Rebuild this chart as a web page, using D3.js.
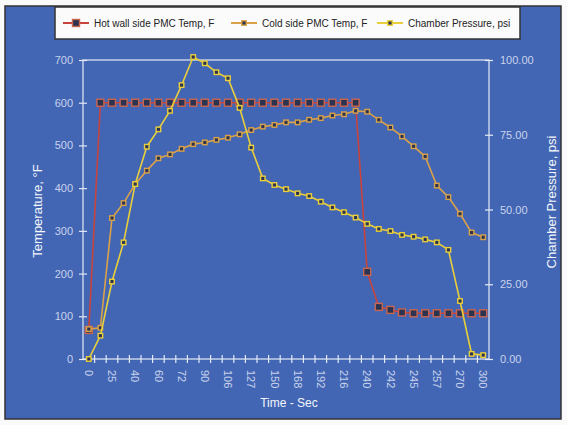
<!DOCTYPE html>
<meta charset="utf-8">
<style>
body {
    margin: 0;
    background: #fafafa;
    font-family: "Liberation Sans", Arial, sans-serif;
}
.tick text {
    fill: #c9d3ec;
    font-size: 11px;
}
.grid-line {
    stroke: #e4eaf6;
    stroke-width: 1.2;
}
.title {
    fill: #f4f6fb;
    font-size: 13px;
}
.legend text {
    font-size: 10px;
    fill: #222;
}
</style>
<body>
<svg style="width:567px; height:425px;"></svg>
<script src="https://d3js.org/d3.v7.min.js"></script>
<script>

// x tick labels (every other sample is labelled)
var timeLabels = ["0", "25", "40", "60", "72", "90", "106", "127", "150", "168",
                  "192", "216", "240", "242", "245", "257", "270", "300"];

var hotWall = [68, 600, 600, 600, 600, 600, 600, 600, 600, 600, 600, 600, 600, 600,
               600, 600, 600, 600, 600, 600, 600, 600, 600, 600, 204, 122, 115, 109,
               107, 107, 107, 107, 107, 107, 107];

var coldSide = [70, 73, 330, 365, 410, 441, 470, 479, 492, 503, 507, 513, 518, 526,
                536, 544, 548, 554, 554, 560, 564, 570, 573, 581, 579, 560, 542, 521,
                498, 474, 406, 379, 340, 296, 285];

var pressure = [0, 7.8, 25.9, 39, 58.5, 71, 76.8, 83, 91.6, 101, 98.9, 95.9, 93.9, 84,
                70.7, 60.4, 58.2, 56.8, 55.4, 54.5, 52.6, 50.7, 49.1, 47.3, 45.2, 43.5,
                42.8, 41.5, 40.9, 40.0, 39.0, 36.5, 19.4, 1.7, 1.3];

var tempTicks = [0, 100, 200, 300, 400, 500, 600, 700];
var psiTicks = [0, 25, 50, 75, 100];

var plot = {left: 83, right: 489, top: 60, bottom: 359};

var svg = d3.select("svg");

// scanned-looking blue panel
svg.append("rect")
    .attr("x", 5).attr("y", 6)
    .attr("width", 556).attr("height", 413)
    .attr("fill", "#4266b4")
    .attr("stroke", "#333")
    .attr("stroke-width", 1.5);

var xScale = d3.scaleBand()
    .domain(d3.range(hotWall.length))
    .range([plot.left, plot.right]);

var yTemp = d3.scaleLinear()
    .domain([0, 700])
    .range([plot.bottom, plot.top]);

var yPsi = d3.scaleLinear()
    .domain([0, 100])
    .range([plot.bottom, plot.top]);

var cx = function(d, i) { return xScale(i) + xScale.bandwidth() / 2; };

// frame of the plot area
svg.append("rect")
    .attr("class", "grid-line")
    .attr("x", plot.left).attr("y", plot.top)
    .attr("width", plot.right - plot.left)
    .attr("height", plot.bottom - plot.top)
    .attr("fill", "none");

// left axis
var leftAxis = svg.append("g")
    .attr("transform", "translate(" + plot.left + ",0)")
    .call(d3.axisLeft(yTemp)
        .tickValues(tempTicks)
        .tickSize(0)
        .tickPadding(10)
        .tickFormat(d3.format("d")));
leftAxis.select(".domain").remove();
leftAxis.selectAll(".tick").append("line")
    .attr("class", "grid-line")
    .attr("x1", -4).attr("x2", 4);

// right axis
var rightAxis = svg.append("g")
    .attr("transform", "translate(" + plot.right + ",0)")
    .call(d3.axisRight(yPsi)
        .tickValues(psiTicks)
        .tickSize(0)
        .tickPadding(11)
        .tickFormat(d3.format(".2f")));
rightAxis.select(".domain").remove();
rightAxis.selectAll(".tick").append("line")
    .attr("class", "grid-line")
    .attr("x1", -4).attr("x2", 4);

// bottom axis: ticks between categories, labels on every other one
var bottomAxis = svg.append("g")
    .attr("transform", "translate(0," + plot.bottom + ")")
    .call(d3.axisBottom(xScale)
        .tickValues(d3.range(0, hotWall.length, 2))
        .tickSize(0)
        .tickFormat(function(d) { return timeLabels[d / 2]; }));
bottomAxis.select(".domain").remove();
bottomAxis.selectAll(".tick text")
    .attr("transform", "rotate(90)")
    .attr("x", 11)
    .attr("y", 0)
    .attr("dy", "0.35em")
    .style("text-anchor", "start");

bottomAxis.selectAll("line.sep")
    .data(d3.range(1, hotWall.length))
    .enter().append("line")
    .attr("class", "grid-line sep")
    .attr("x1", function(d) { return xScale(d); })
    .attr("x2", function(d) { return xScale(d); })
    .attr("y1", -4).attr("y2", 4);

// axis titles
svg.append("text")
    .attr("class", "title")
    .attr("transform", "translate(42,211) rotate(-90)")
    .style("text-anchor", "middle")
    .text("Temperature, °F");

svg.append("text")
    .attr("class", "title")
    .attr("transform", "translate(556,202) rotate(-90)")
    .style("text-anchor", "middle")
    .text("Chamber Pressure, psi");

svg.append("text")
    .attr("class", "title")
    .attr("x", 289).attr("y", 407)
    .style("text-anchor", "middle")
    .style("font-size", "12px")
    .text("Time - Sec");

// series
var series = [
    {name: "Hot wall side PMC Temp, F", values: hotWall, y: yTemp, line: "#c9443c", mark: "#c8664f", size: 7},
    {name: "Cold side PMC Temp, F", values: coldSide, y: yTemp, line: "#d9a24a", mark: "#d9a24a", size: 4.5},
    {name: "Chamber Pressure, psi", values: pressure, y: yPsi, line: "#e9cf3c", mark: "#e9cf3c", size: 4.5}
];

series.forEach(function(s) {
    var line = d3.line()
        .x(cx)
        .y(function(d) { return s.y(d); });

    var g = svg.append("g");
    g.append("path")
        .datum(s.values)
        .attr("fill", "none")
        .attr("stroke", s.line)
        .attr("stroke-width", 1.6)
        .attr("d", line);

    g.selectAll("rect")
        .data(s.values)
        .enter().append("rect")
        .attr("x", function(d, i) { return cx(d, i) - s.size / 2; })
        .attr("y", function(d) { return s.y(d) - s.size / 2; })
        .attr("width", s.size)
        .attr("height", s.size)
        .attr("fill", "#2b3350")
        .attr("stroke", s.mark)
        .attr("stroke-width", 1.4);
});

// legend
var legend = svg.append("g").attr("class", "legend");
legend.append("rect")
    .attr("x", 55).attr("y", 7)
    .attr("width", 465).attr("height", 32)
    .attr("fill", "#fbfbfb")
    .attr("stroke", "#333")
    .attr("stroke-width", 1.5);

var legendX = [63, 231, 377];
series.forEach(function(s, i) {
    var g = legend.append("g").attr("transform", "translate(" + legendX[i] + ",23)");
    g.append("line")
        .attr("x1", 0).attr("x2", 26)
        .attr("stroke", s.line)
        .attr("stroke-width", 2);
    g.append("rect")
        .attr("x", 13 - s.size / 2).attr("y", -s.size / 2)
        .attr("width", s.size).attr("height", s.size)
        .attr("fill", "#2b3350")
        .attr("stroke", s.mark)
        .attr("stroke-width", 1.4);
    g.append("text")
        .attr("x", 31)
        .attr("dy", "0.35em")
        .text(s.name);
});

</script>
